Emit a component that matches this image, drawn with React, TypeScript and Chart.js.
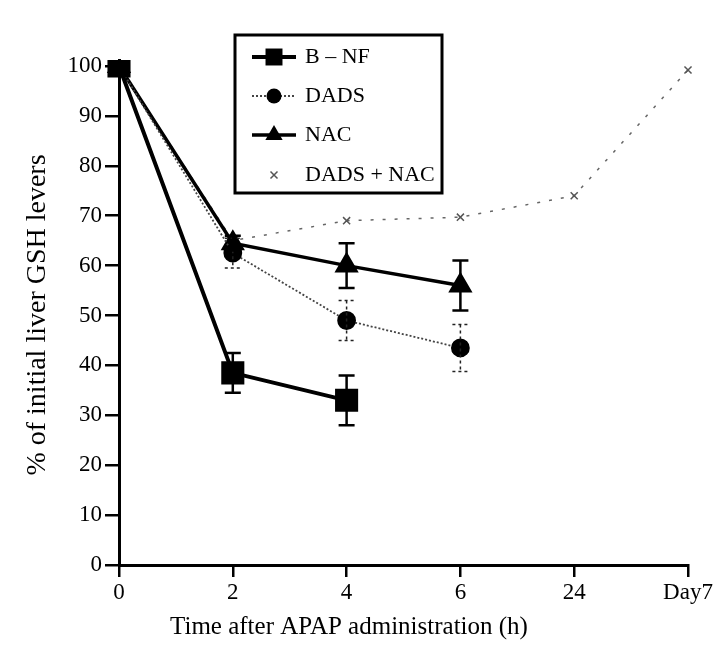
import { useEffect, useRef } from 'react';
import { Chart, registerables } from 'chart.js';
Chart.register(...registerables);

const timeLabels = ['0', '2', '4', '6', '24', 'Day7'];
const yTickValues = [0, 10, 20, 30, 40, 50, 60, 70, 80, 90, 100];
const bnfValues = [100, 38.5, 33, null, null, null];
const bnfErrors = [0, 4, 5, null, null, null];
const dadsValues = [100, 62.5, 49, 43.5, null, null];
const dadsErrors = [0, 3, 4, 4.7, null, null];
const nacValues = [100, 64.5, 60, 56, null, null];
const nacErrors = [0, 1.5, 4.5, 5, null, null];
const comboValues = [100, 65, 69, 69.7, 74, 99.2];
const seriesNames = ['B \u2013 NF', 'DADS', 'NAC', 'DADS + NAC'];
const xTitle = 'Time after APAP administration (h)';
const yTitle = '% of initial liver GSH levers';

const FONT = "'Liberation Serif', 'Times New Roman', serif";

function drawMarker(ctx: CanvasRenderingContext2D, style: string, x: number, y: number, r: number, color: string) {
  ctx.save();
  ctx.fillStyle = color;
  ctx.strokeStyle = color;
  ctx.setLineDash([]);
  ctx.beginPath();
  if (style === 'rect') {
    const s = r * Math.SQRT1_2;
    ctx.rect(x - s, y - s, 2 * s, 2 * s);
    ctx.fill();
  } else if (style === 'circle') {
    ctx.arc(x, y, r, 0, Math.PI * 2);
    ctx.fill();
  } else if (style === 'triangle') {
    ctx.moveTo(x, y - r);
    ctx.lineTo(x + r * 0.866, y + r * 0.5);
    ctx.lineTo(x - r * 0.866, y + r * 0.5);
    ctx.closePath();
    ctx.fill();
  } else {
    ctx.lineWidth = 1.5;
    const d = r * 0.7;
    ctx.moveTo(x - d, y - d); ctx.lineTo(x + d, y + d);
    ctx.moveTo(x + d, y - d); ctx.lineTo(x - d, y + d);
    ctx.stroke();
  }
  ctx.restore();
}

const errorBarPlugin = {
  id: 'errorBars',
  afterDatasetsDraw(chart: any) {
    const ctx = chart.ctx;
    const ys = chart.scales.y;
    chart.data.datasets.forEach((ds: any, i: number) => {
      const errs = ds.errors;
      if (!errs) return;
      const meta = chart.getDatasetMeta(i);
      ctx.save();
      ctx.strokeStyle = ds.errorColor || '#000';
      ctx.lineWidth = ds.errorWidth || 2;
      ctx.setLineDash(ds.errorDash || []);
      errs.forEach((e: number | null, j: number) => {
        const v = ds.data[j];
        if (e == null || v == null || e === 0) return;
        const x = meta.data[j].x;
        const yTop = ys.getPixelForValue(v + e);
        const yBot = ys.getPixelForValue(v - e);
        ctx.beginPath();
        ctx.moveTo(x, yTop); ctx.lineTo(x, yBot);
        ctx.moveTo(x - 8, yTop); ctx.lineTo(x + 8, yTop);
        ctx.moveTo(x - 8, yBot); ctx.lineTo(x + 8, yBot);
        ctx.stroke();
      });
      ctx.restore();
    });
  },
};

const legendPlugin = {
  id: 'boxLegend',
  afterDraw(chart: any) {
    const ctx = chart.ctx;
    ctx.save();
    ctx.strokeStyle = '#000';
    ctx.lineWidth = 3;
    ctx.setLineDash([]);
    ctx.strokeRect(235, 35, 207, 158);
    const rows = [57, 96, 135, 175];
    chart.data.datasets.forEach((ds: any, i: number) => {
      const y = rows[i];
      ctx.save();
      if (ds.legendLine !== false) {
        ctx.strokeStyle = ds.borderColor;
        ctx.lineWidth = ds.borderWidth;
        ctx.setLineDash(ds.borderDash || []);
        ctx.beginPath();
        ctx.moveTo(252, y); ctx.lineTo(296, y);
        ctx.stroke();
      }
      ctx.restore();
      drawMarker(ctx, ds.pointStyle, 274, y, ds.legendR, ds.pointBackgroundColor);
      ctx.fillStyle = '#000';
      ctx.font = `22px ${FONT}`;
      ctx.textBaseline = 'middle';
      ctx.textAlign = 'left';
      ctx.fillText(ds.label, 305, y);
    });
    ctx.restore();
  },
};

const titlePlugin = {
  id: 'axisTitles',
  afterDraw(chart: any) {
    const ctx = chart.ctx;
    ctx.save();
    ctx.fillStyle = '#000';
    ctx.font = `25px ${FONT}`;
    ctx.textAlign = 'center';
    ctx.textBaseline = 'middle';
    ctx.fillText(xTitle, 349, 627);
    ctx.font = `28px ${FONT}`;
    ctx.translate(38, 315);
    ctx.rotate(-Math.PI / 2);
    ctx.fillText(yTitle, 0, 0);
    ctx.restore();
  },
};

export default function App() {
  const ref = useRef<HTMLCanvasElement>(null);
  useEffect(() => {
    if (!ref.current) return;
    const chart = new Chart(ref.current, {
      type: 'line',
      data: {
        labels: timeLabels,
        datasets: [
          {
            label: seriesNames[0],
            data: bnfValues,
            errors: bnfErrors,
            borderColor: '#000',
            borderWidth: 4,
            pointStyle: 'rect',
            pointRadius: 13.5,
            legendR: 12,
            pointBackgroundColor: '#000',
            pointBorderColor: '#000',
            errorWidth: 2.5,
          },
          {
            label: seriesNames[1],
            data: dadsValues,
            errors: dadsErrors,
            borderColor: '#444',
            borderWidth: 1.8,
            borderDash: [2, 2],
            pointStyle: 'circle',
            pointRadius: 8.5,
            legendR: 7.5,
            pointBackgroundColor: '#000',
            pointBorderColor: '#000',
            errorColor: '#222',
            errorWidth: 1.5,
            errorDash: [3, 3],
          },
          {
            label: seriesNames[2],
            data: nacValues,
            errors: nacErrors,
            borderColor: '#000',
            borderWidth: 3.5,
            pointStyle: 'triangle',
            pointRadius: 10.5,
            legendR: 10,
            pointBackgroundColor: '#000',
            pointBorderColor: '#000',
            errorWidth: 2.5,
          },
          {
            label: seriesNames[3],
            data: comboValues,
            borderColor: '#666',
            borderWidth: 1.5,
            borderDash: [3, 9],
            pointStyle: 'crossRot',
            pointRadius: 5,
            legendR: 5,
            legendLine: false,
            pointBackgroundColor: '#555',
            pointBorderColor: '#555',
            pointBorderWidth: 1.5,
          },
        ] as any,
      },
      options: {
        animation: false,
        responsive: false,
        maintainAspectRatio: false,
        spanGaps: false,
        layout: { padding: { top: 60, right: 40, left: 0, bottom: 0 } },
        plugins: { legend: { display: false }, tooltip: { enabled: false } },
        scales: {
          x: {
            type: 'category',
            offset: false,
            grid: { drawOnChartArea: false, drawTicks: true, tickLength: 12, color: '#000', lineWidth: 2.5 },
            border: { display: true, color: '#000', width: 3 },
            ticks: { color: '#000', font: { family: FONT, size: 23 }, padding: 2, maxRotation: 0, autoSkip: false },
            afterFit: (axis: any) => { axis.height = 94; },
          },
          y: {
            min: 0,
            max: 101.2,
            grid: { drawOnChartArea: false, drawTicks: true, tickLength: 14, color: '#000', lineWidth: 2.5 },
            border: { display: true, color: '#000', width: 3 },
            ticks: { color: '#000', font: { family: FONT, size: 23 }, padding: 3, autoSkip: false },
            afterBuildTicks: (axis: any) => {
              axis.ticks = yTickValues.map((v) => ({ value: v }));
            },
            afterFit: (axis: any) => { axis.width = 119; },
          },
        },
      } as any,
      plugins: [errorBarPlugin, legendPlugin, titlePlugin],
    });
    return () => chart.destroy();
  }, []);
  return (
    <div style={{ position: 'fixed', left: 0, top: 0, width: 728, height: 659, background: '#fff' }}>
      <canvas ref={ref} width={728} height={659} style={{ width: 728, height: 659 }} />
    </div>
  );
}
